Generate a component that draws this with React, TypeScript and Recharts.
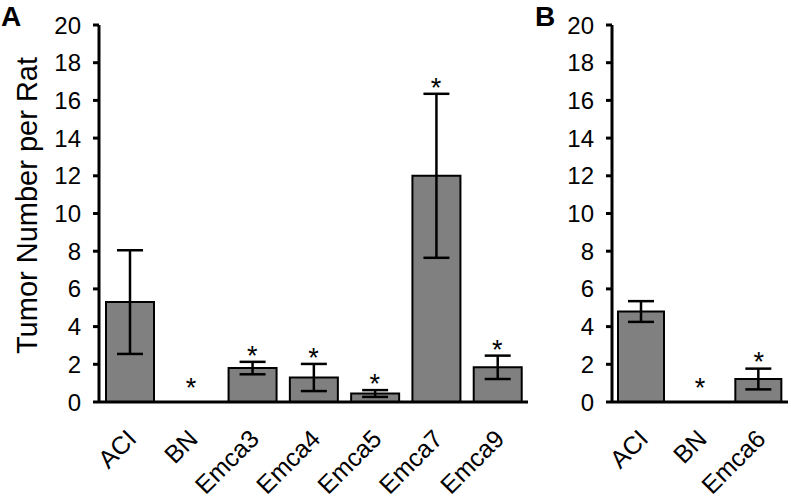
import { ComposedChart, Bar, Line, XAxis, YAxis, ErrorBar } from 'recharts';

const catsA = ['ACI', 'BN', 'Emca3', 'Emca4', 'Emca5', 'Emca7', 'Emca9'];
const meanA = [5.3, 0, 1.8, 1.3, 0.45, 12.0, 1.84];
const semA = [2.75, 0, 0.33, 0.72, 0.18, 4.35, 0.62];
const starA = [null, 0.4, 2.14, 2.03, 0.64, 16.35, 2.46];

const catsB = ['ACI', 'BN', 'Emca6'];
const meanB = [4.8, 0, 1.22];
const semB = [0.55, 0, 0.55];
const starB = [null, 0.4, 1.78];

const yTicks = [0, 2, 4, 6, 8, 10, 12, 14, 16, 18, 20];

const FONT = '"Liberation Sans", Arial, sans-serif';

function build(cats: string[], mean: number[], sem: number[], star: (number | null)[]) {
  return cats.map((name, i) => ({ name, mean: mean[i], sem: sem[i], star: star[i] }));
}

const dataA = build(catsA, meanA, semA, starA);
const dataB = build(catsB, meanB, semB, starB);

const XTick = ({ x, y, payload }: any) => (
  <text
    x={x + 2}
    y={y}
    transform={`rotate(-45 ${x + 2} ${y})`}
    textAnchor="end"
    dominantBaseline="central"
    fontSize={25}
    fontFamily={FONT}
    fill="#000"
  >
    {payload.value}
  </text>
);

const Star = (props: any) => {
  const { cx, cy, value, index } = props;
  if (value == null || cy == null) return <g key={index} />;
  return (
    <text key={index} x={cx} y={cy + 3} textAnchor="middle" fontSize={27} fontFamily={FONT} fill="#000">
      *
    </text>
  );
};

function Panel({ data, width, yWidth, right, label }: any) {
  return (
    <ComposedChart width={width} height={499} data={data} margin={{ top: 25, right, left: 0, bottom: 0 }}>
      <XAxis
        dataKey="name"
        height={97}
        tickLine={false}
        tickMargin={26}
        tick={<XTick />}
        axisLine={{ stroke: '#000', strokeWidth: 3 }}
        interval={0}
      />
      <YAxis
        width={yWidth}
        domain={[0, 20]}
        ticks={yTicks}
        interval={0}
        tickSize={6}
        tickMargin={12}
        tick={{ fontSize: 24, fontFamily: FONT, fill: '#000' }}
        axisLine={{ stroke: '#000', strokeWidth: 3 }}
        tickLine={{ stroke: '#000', strokeWidth: 3 }}
        label={
          label
            ? {
                content: (p: any) => {
                  const vb = p.viewBox || { x: 0, y: 25, width: yWidth, height: 377 };
                  const cx = vb.x + 37;
                  const cy = vb.y + vb.height / 2 - 8;
                  return (
                    <text
                      x={cx}
                      y={cy}
                      transform={`rotate(-90 ${cx} ${cy})`}
                      textAnchor="middle"
                      fontSize={29}
                      fontFamily={FONT}
                      fill="#000"
                    >
                      {label}
                    </text>
                  );
                },
              }
            : undefined
        }
      />
      <Bar dataKey="mean" fill="#808080" stroke="#000" strokeWidth={2} barSize={width > 300 ? 48 : 46} isAnimationActive={false}>
        <ErrorBar dataKey="sem" width={13} stroke="#000" strokeWidth={2.5} />
      </Bar>
      <Line dataKey="star" stroke="none" dot={Star} activeDot={false} isAnimationActive={false} legendType="none" />
    </ComposedChart>
  );
}

export default function App() {
  return (
    <div style={{ position: 'absolute', left: 0, top: 0, width: 791, height: 499, background: '#fff', fontFamily: FONT }}>
      <div style={{ position: 'absolute', left: 0, top: 0 }}>
        <Panel data={dataA} width={540} yWidth={99} right={12} label="Tumor Number per Rat" />
      </div>
      <div style={{ position: 'absolute', left: 540, top: 0 }}>
        <Panel data={dataB} width={251} yWidth={72} right={3} />
      </div>
      <div style={{ position: 'absolute', left: 1, top: 1, fontSize: 28, fontWeight: 'bold', lineHeight: '32px' }}>A</div>
      <div style={{ position: 'absolute', left: 535, top: 1, fontSize: 28, fontWeight: 'bold', lineHeight: '32px' }}>B</div>
    </div>
  );
}
